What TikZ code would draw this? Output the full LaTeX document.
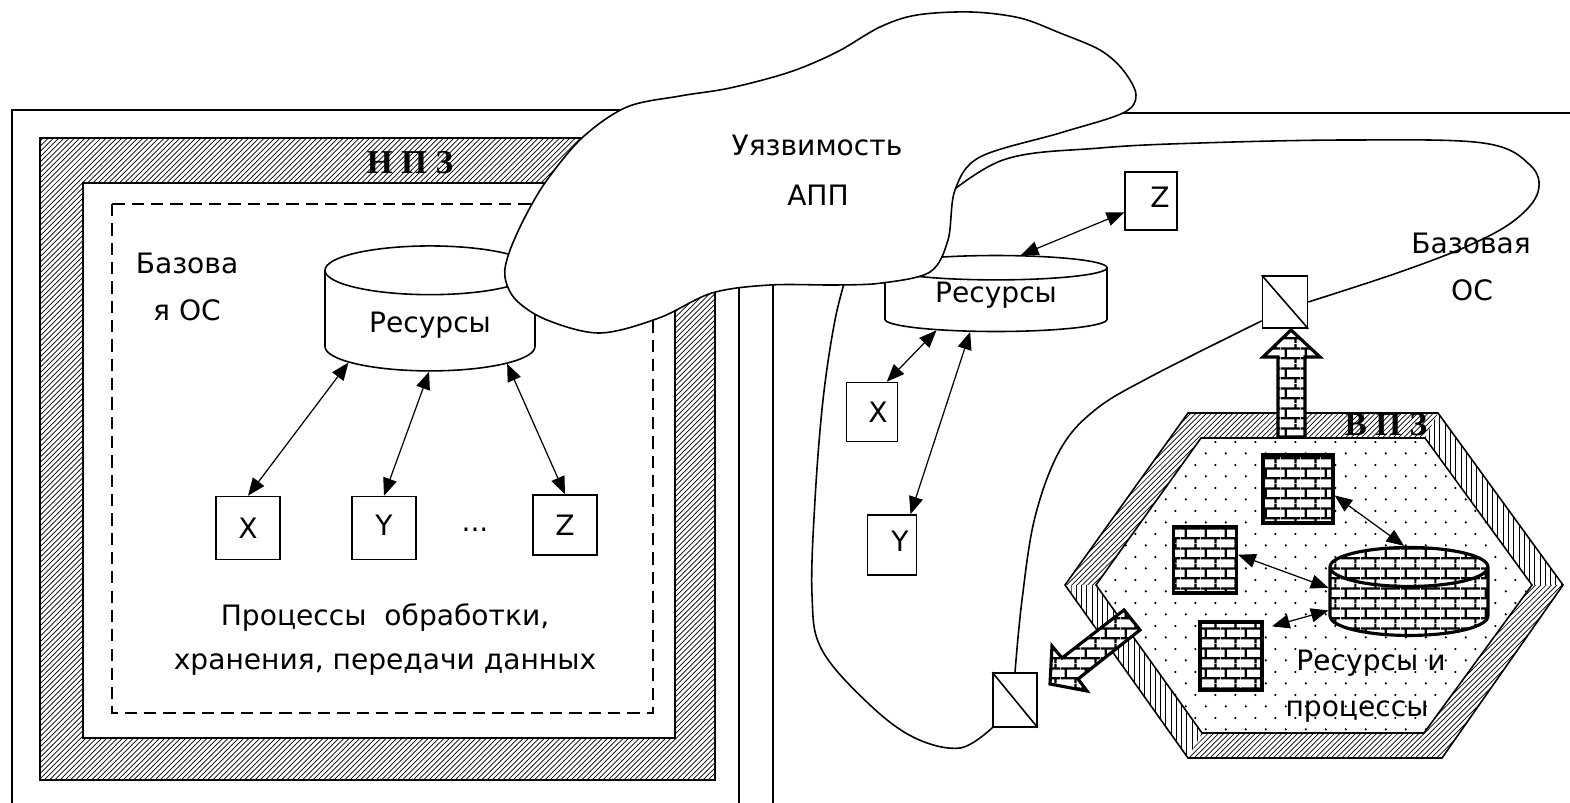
\documentclass[tikz,border=0pt]{standalone}
\usepackage{fontspec}
\setmainfont{DejaVu Sans}
\newfontfamily\zonefont{Liberation Serif}
\usepackage{tikz}
\usetikzlibrary{shapes.geometric,arrows.meta,patterns,patterns.meta}

\tikzdeclarepattern{
  name=bricks, type=uncolored,
  bottom left={(0pt,0pt)}, top right={(11.4pt,11.4pt)}, tile size={(11.4pt,11.4pt)},
  code={
    \draw[line width=1.3pt] (0pt,2.85pt) -- (11.4pt,2.85pt) (0pt,8.55pt) -- (11.4pt,8.55pt)
      (2.85pt,2.85pt) -- (2.85pt,8.55pt) (8.55pt,8.55pt) -- (8.55pt,11.4pt) (8.55pt,0pt) -- (8.55pt,2.85pt);
  }
}
\tikzdeclarepattern{
  name=sparsedots, type=uncolored,
  bottom left={(0pt,0pt)}, top right={(11.4pt,13pt)}, tile size={(11.4pt,13pt)},
  code={
    \fill (2.85pt,3.25pt) circle (0.7pt);
    \fill (8.55pt,9.75pt) circle (0.7pt);
  }
}

\begin{document}
\begin{tikzpicture}[
        x=0.02cm, y=-0.02cm, line width=0.9pt,
        font=\fontsize{16}{19}\selectfont,
        proc/.style={rectangle, draw=black, fill=white, inner sep=0pt, minimum width=1.28cm, minimum height=1.26cm},
        store/.style={cylinder, shape border rotate=90, draw=black, fill=white, inner sep=0pt},
        gate/.style={rectangle, draw=black, fill=white, inner sep=0pt},
        brick/.style={rectangle, draw=black, line width=1.8pt, preaction={fill=white}, pattern=bricks, inner sep=0pt},
        brickfill/.style={path picture={\fill[pattern=bricks] (path picture bounding box.south west) rectangle (path picture bounding box.north east);}},
        link/.style={{Triangle[length=10pt, width=8pt]}-{Triangle[length=10pt, width=8pt]}, line width=0.7pt},
        zone/.style={draw=black, pattern=north east lines, even odd rule},
        ztitle/.style={font=\zonefont\bfseries\fontsize{19}{19}\selectfont}
    ]
        \useasboundingbox (0, 0) rectangle (1570, 803);
        \clip (0, 0) rectangle (1570, 803);

        % Left panel (НПЗ)
        \draw (12, 815) -- (12, 110) -- (739, 110) -- (739, 815);
        \path[zone] (40, 138) rectangle (715, 780) (83, 183) rectangle (675, 738);
        \draw[dash pattern=on 7pt off 4pt] (112, 204) rectangle (653, 713);
        \node[ztitle] (npz) at (410, 163) {Н П З};
        \node (osl1) at (187, 263) {Базова};
        \node (osl2) at (187, 310) {я ОС};

        \node[store, minimum width=4.2cm, minimum height=2.5cm, shape aspect=0.4] (resl) at (430, 321) {\raisebox{-0.23cm}[0pt][0pt]{Ресурсы}};
        \node[proc] (xl) at (248, 528) {X};
        \node[proc] (yl) at (384, 528) {\raisebox{0.12cm}{Y}};
        \node[proc, minimum height=1.2cm] (zl) at (565, 525) {Z};
        \node (dots) at (475, 530) {...};
        \draw[link] (xl.north) -- (resl.207);
        \draw[link] (yl.north) -- (resl.269);
        \draw[link] (zl.north) -- (resl.331);

        \node (proc1) at (385, 618) {Процессы \ обработки,};
        \node (proc2) at (385, 665) {хранения, передачи данных};

        % Right panel
        \draw (773, 815) -- (773, 113) -- (1580, 113);

        % Base OS boundary
        \node[gate, minimum width=0.9cm, minimum height=1.04cm] (gateup) at (1285, 302) {};
        \node[gate, minimum width=0.88cm, minimum height=1.08cm] (gatelow) at (1015, 700) {};
        \draw plot[smooth, tension=0.6] coordinates {(935, 205) (1003, 160) (1100, 148) (1200, 143) (1350, 140) (1483, 143) (1530, 165) (1538, 192) (1515, 220) (1470, 245) (1400, 272) (gateup.east)};
        \draw plot[smooth, tension=0.6] coordinates {(gateup.219) (1150, 377) (1095, 410) (1060, 450) (1035, 517) (1022, 600) (gatelow.north)};
        \draw plot[smooth, tension=0.6] coordinates {(gatelow.south west) (960, 748) (915, 738) (870, 705) (822, 650) (812, 595) (815, 500) (823, 400) (835, 320) (848, 270)};
        \draw (gateup.north west) -- (gateup.south east);
        \draw (gatelow.north west) -- (gatelow.south east);
        \node (osr1) at (1471, 243) {Базовая};
        \node (osr2) at (1472, 290) {ОС};

        \node[store, minimum width=4.44cm, minimum height=1.52cm, shape aspect=0.2] (resr) at (996, 300) {\raisebox{-0.05cm}[0pt][0pt]{Ресурсы}};
        \node[proc, minimum width=1.02cm, minimum height=1.18cm] (xr) at (872, 412) {\hspace*{0.24cm}X};
        \node[proc, minimum width=0.98cm, minimum height=1.2cm] (yr) at (892, 545) {\hspace*{0.32cm}\raisebox{0.16cm}{Y}};
        \node[proc, minimum width=1.04cm, minimum height=1.16cm] (zr) at (1151, 201) {\hspace*{0.36cm}\raisebox{0.16cm}{Z}};
        \draw[link] (xr.64) -- (resr.207);
        \draw[link] (yr.59) -- (resr.231);
        \draw[link] (zr.203) -- (resr.61);

        % Protected zone (ВПЗ)
        \path[pattern=north east lines] (1188, 413) -- (1438, 413) -- (1425, 438) -- (1201, 438) -- (1096, 585) -- (1065, 585) -- cycle;
        \path[pattern=north east lines] (1563, 585) -- (1442, 758) -- (1188, 758) -- (1202, 733) -- (1424, 733) -- (1532, 585) -- cycle;
        \path[pattern=vertical lines] (1438, 413) -- (1563, 585) -- (1532, 585) -- (1425, 438) -- cycle;
        \path[pattern=vertical lines] (1065, 585) -- (1188, 758) -- (1202, 733) -- (1096, 585) -- cycle;
        \draw (1188, 413) -- (1438, 413) -- (1563, 585) -- (1442, 758) -- (1188, 758) -- (1065, 585) -- cycle;
        \draw[pattern=sparsedots] (1201, 438) -- (1425, 438) -- (1532, 585) -- (1424, 733) -- (1202, 733) -- (1096, 585) -- cycle;
        \node[ztitle] (vpz) at (1386, 425) {В П З};

        \node[brick, minimum width=1.4cm, minimum height=1.36cm] (tb) at (1298, 489) {};
        \node[brick, minimum width=1.26cm, minimum height=1.32cm] (lb) at (1205, 560) {};
        \node[brick, minimum width=1.24cm, minimum height=1.36cm] (bb) at (1231, 656) {};
        \node[store, line width=1.8pt, brickfill, minimum width=3.16cm, minimum height=1.76cm, shape aspect=0.32] (bc) at (1409, 602) {\phantom{Ресурсы}};
        \draw[link] (tb.350) -- (bc.95);
        \draw[link] (lb.9) -- (bc.170);
        \draw[link, shorten <=5pt] (bb.40) -- (bc.186);
        \node (rp1) at (1371, 663) {Ресурсы и};
        \node (rp2) at (1357, 712) {процессы};

        % Brick arrows
        \draw[line width=1.8pt, preaction={fill=white}, pattern=bricks] (1278, 437) -- (1278, 357) -- (1263, 357) -- (1291, 330) -- (1320, 357) -- (1305, 357) -- (1305, 437) -- cycle;
        \draw[line width=1.8pt, preaction={fill=white}, pattern=bricks] (1124, 610) -- (1062, 658) -- (1052, 646) -- (1050, 684) -- (1087, 691) -- (1078, 679) -- (1140, 630) -- cycle;

        % Vulnerability cloud
        \draw[fill=white] plot[smooth cycle, tension=0.55] coordinates {(505, 277) (509, 253) (525, 217) (547, 180) (583, 137) (627, 107) (680, 96) (730, 88) (790, 72) (837, 52) (880, 27) (917, 15) (971, 12) (1020, 18) (1060, 33) (1100, 50) (1123, 70) (1136, 95) (1123, 113) (1060, 133) (980, 157) (955, 190) (948, 240) (930, 272) (882, 283) (837, 285) (770, 285) (712, 293) (659, 318) (600, 333) (547, 320) (516, 300)};
        \node (vuln) at (817, 145) {Уязвимость};
        \node (app) at (818, 195) {АПП};
    \end{tikzpicture}
\end{document}
